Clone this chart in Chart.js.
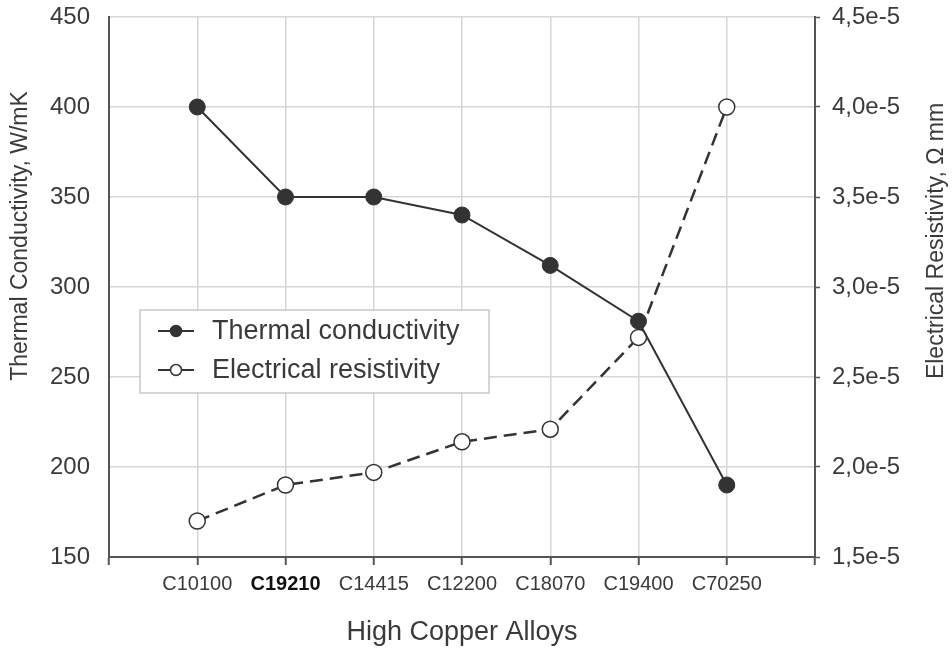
<!DOCTYPE html>
<html>
<head>
<meta charset="utf-8">
<title>High Copper Alloys</title>
<script src="https://cdn.jsdelivr.net/npm/chart.js@4.4.1/dist/chart.umd.min.js"></script>
<style>
    body { margin: 0; background: #fff; }
    #wrap { width: 952px; height: 655px; position: relative; }
</style>
</head>
<body>
<div id="wrap"><canvas id="alloyChart"></canvas></div>
<script>
// Chart data
const alloys = ['C10100', 'C19210', 'C14415', 'C12200', 'C18070', 'C19400', 'C70250'];
const thermalConductivity = [400, 350, 350, 340, 312, 281, 190];
const electricalResistivity = [1.7e-5, 1.9e-5, 1.97e-5, 2.14e-5, 2.21e-5, 2.72e-5, 4.0e-5];
const seriesLabels = ['Thermal conductivity', 'Electrical resistivity'];
const leftTicks = [150, 200, 250, 300, 350, 400, 450];
const rightTicks = [1.5e-5, 2.0e-5, 2.5e-5, 3.0e-5, 3.5e-5, 4.0e-5, 4.5e-5];
const xTitle = 'High Copper Alloys';
const leftTitle = 'Thermal Conductivity, W/mK';
const rightTitle = 'Electrical Resistivity, \u03A9 mm';
const boldAlloy = 'C19210';

const FONT = '"Liberation Sans", Arial, sans-serif';
const TEXT = '#3a3a3a';
const LINE = '#333333';
const GRID = '#d6d6d6';
const AXIS = '#555555';

// positions on the x axis: one category per unit, empty slot at each end
function toPoints(values) {
    return values.map((v, i) => ({ x: i + 1, y: v }));
}

function formatResistivity(v) {
    return (v * 1e5).toFixed(1).replace('.', ',') + 'e-5';
}

function tickValue(ctx) {
    return ctx && ctx.tick ? ctx.tick.value : null;
}

function isBold(ctx) {
    const v = tickValue(ctx);
    return v !== null && alloys[v - 1] === boldAlloy;
}

// legend box drawn inside the plot, like in the figure
const innerLegend = {
    id: 'innerLegend',
    afterDraw(chart) {
        const ctx = chart.ctx;
        const box = { x: 140, y: 310, w: 349, h: 83 };
        ctx.save();
        ctx.fillStyle = '#ffffff';
        ctx.fillRect(box.x, box.y, box.w, box.h);
        ctx.strokeStyle = '#c8c8c8';
        ctx.lineWidth = 1.5;
        ctx.strokeRect(box.x, box.y, box.w, box.h);

        chart.data.datasets.forEach(function(ds, i) {
            const y = box.y + 21 + i * 39;
            ctx.strokeStyle = LINE;
            ctx.lineWidth = 2;
            ctx.setLineDash([]);
            ctx.beginPath();
            ctx.moveTo(158, y);
            ctx.lineTo(194, y);
            ctx.stroke();

            ctx.beginPath();
            ctx.arc(176, y, 5.5, 0, Math.PI * 2);
            ctx.fillStyle = ds.pointBackgroundColor;
            ctx.fill();
            ctx.lineWidth = 1.5;
            ctx.stroke();

            ctx.fillStyle = TEXT;
            ctx.font = '27px ' + FONT;
            ctx.textAlign = 'left';
            ctx.textBaseline = 'middle';
            ctx.fillText(ds.label, 212, y + 1);
        });
        ctx.restore();
    }
};

// the two vertical axis titles sit a bit above the middle of the axis
const sideTitles = {
    id: 'sideTitles',
    afterDraw(chart) {
        const ctx = chart.ctx;
        ctx.save();
        ctx.fillStyle = TEXT;
        ctx.font = '23px ' + FONT;
        ctx.textAlign = 'center';
        ctx.textBaseline = 'middle';

        ctx.translate(21, 236);
        ctx.rotate(-Math.PI / 2);
        ctx.fillText(leftTitle, 0, 0);
        ctx.setTransform(1, 0, 0, 1, 0, 0);

        ctx.translate(937, 241);
        ctx.rotate(-Math.PI / 2);
        ctx.fillText(rightTitle, 0, 0);
        ctx.restore();
    }
};

function fixWidth(w) {
    return function(scale) {
        scale.width = w;
        scale.paddingTop = 0;
        scale.paddingBottom = 0;
    };
}

new Chart(document.getElementById('alloyChart'), {
    type: 'line',
    data: {
        datasets: [{
            label: seriesLabels[0],
            data: toPoints(thermalConductivity),
            yAxisID: 'y',
            borderColor: LINE,
            borderWidth: 2,
            pointRadius: 8,
            pointBackgroundColor: LINE,
            pointBorderColor: LINE,
            pointBorderWidth: 1,
            tension: 0
        }, {
            label: seriesLabels[1],
            data: toPoints(electricalResistivity),
            yAxisID: 'y1',
            borderColor: LINE,
            borderWidth: 2.5,
            borderDash: [13, 7],
            pointRadius: 8,
            pointBackgroundColor: '#ffffff',
            pointBorderColor: LINE,
            pointBorderWidth: 1.5,
            tension: 0
        }]
    },
    options: {
        responsive: true,
        maintainAspectRatio: false,
        animation: false,
        layout: { padding: { top: 17, left: 0, right: 0, bottom: 0 } },
        plugins: {
            legend: { display: false },
            tooltip: { enabled: false }
        },
        scales: {
            x: {
                type: 'linear',
                min: 0,
                max: alloys.length + 1,
                afterBuildTicks: function(scale) {
                    const t = [];
                    for (let i = 0; i <= alloys.length + 1; i++) t.push({ value: i });
                    scale.ticks = t;
                },
                afterFit: function(scale) {
                    scale.height = 98;
                    scale.paddingLeft = 0;
                    scale.paddingRight = 0;
                },
                grid: {
                    color: ctx => {
                        const v = tickValue(ctx);
                        return (v !== null && v > 0 && v <= alloys.length) ? GRID : 'rgba(0,0,0,0)';
                    },
                    lineWidth: 1.5,
                    tickColor: AXIS,
                    tickWidth: 2,
                    tickLength: 8
                },
                border: { color: AXIS, width: 2 },
                ticks: {
                    autoSkip: false,
                    maxRotation: 0,
                    padding: 7,
                    callback: v => alloys[v - 1] || '',
                    color: ctx => isBold(ctx) ? '#111' : TEXT,
                    font: ctx => ({
                        family: FONT,
                        size: 20,
                        weight: isBold(ctx) ? 'bold' : 'normal'
                    })
                },
                title: {
                    display: true,
                    text: xTitle,
                    color: TEXT,
                    font: { family: FONT, size: 27 },
                    padding: { top: 0, bottom: 6 }
                }
            },
            y: {
                position: 'left',
                min: leftTicks[0],
                max: leftTicks[leftTicks.length - 1],
                afterBuildTicks: function(scale) {
                    scale.ticks = leftTicks.map(v => ({ value: v }));
                },
                afterFit: fixWidth(109),
                grid: {
                    color: ctx => tickValue(ctx) === leftTicks[0] ? 'rgba(0,0,0,0)' : GRID,
                    lineWidth: 1.5,
                    drawTicks: false
                },
                border: { color: AXIS, width: 2 },
                ticks: {
                    padding: 19,
                    color: TEXT,
                    font: { family: FONT, size: 24 }
                }
            },
            y1: {
                position: 'right',
                min: rightTicks[0],
                max: rightTicks[rightTicks.length - 1],
                afterBuildTicks: function(scale) {
                    scale.ticks = rightTicks.map(v => ({ value: v }));
                },
                afterFit: fixWidth(137),
                grid: {
                    drawOnChartArea: false,
                    tickLength: 5,
                    tickColor: AXIS,
                    tickWidth: 1.5
                },
                border: { color: AXIS, width: 2 },
                ticks: {
                    padding: 12,
                    color: TEXT,
                    font: { family: FONT, size: 24 },
                    callback: v => formatResistivity(v)
                }
            }
        }
    },
    plugins: [innerLegend, sideTitles]
});
</script>
</body>
</html>
